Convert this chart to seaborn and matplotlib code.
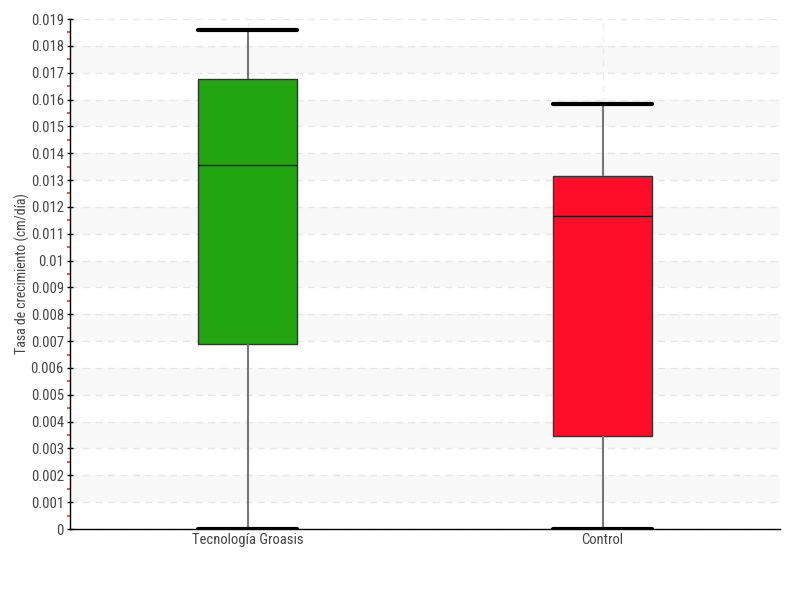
import matplotlib
matplotlib.use("Agg")
import matplotlib.pyplot as plt
import seaborn as sns
import pandas as pd
import numpy as np
from matplotlib.ticker import MultipleLocator, FixedLocator
from matplotlib import font_manager

categories = ["Tecnología Groasis", "Control"]
# five-number summaries: min, Q1, median, Q3, max
groasis_values = [0.0, 0.00689, 0.01356, 0.01676, 0.01859]
control_values = [0.0, 0.00346, 0.01166, 0.01315, 0.01583]
colors = ["#22a511", "#ff0d29"]
y_label = "Tasa de crecimiento (cm/día)"

df = pd.DataFrame({
    "grupo": [categories[0]] * len(groasis_values) + [categories[1]] * len(control_values),
    "tasa": groasis_values + control_values,
})

sns.set_style("white")
avail = {f.name for f in font_manager.fontManager.ttflist}
fam = None
for cand in ["Liberation Sans Narrow", "DejaVu Sans Condensed", "Roboto Condensed", "Open Sans Condensed"]:
    if cand in avail:
        fam = cand
        break
if fam:
    plt.rcParams["font.family"] = [fam, "DejaVu Sans"]
    stretch = "normal"
else:
    plt.rcParams["font.family"] = ["DejaVu Sans"]
    stretch = "condensed"

fig = plt.figure(figsize=(8, 6), dpi=100)
ax = fig.add_axes([0.0875, 0.1183, 0.8875, 0.85])

# alternating bands
for k in range(0, 19, 2):
    ax.axhspan((k + 1) * 0.001, (k + 2) * 0.001, color="#f8f8f8", zorder=0, lw=0)

sns.boxplot(data=df, x="grupo", y="tasa", order=categories, hue="grupo",
            hue_order=categories, palette=colors, saturation=1, width=0.28,
            whis=1.5, legend=False, ax=ax, linewidth=1, linecolor="#222222",
            medianprops=dict(color="#111111", linewidth=1),
            whiskerprops=dict(color="#777777", linewidth=1.5),
            capprops=dict(color="black", linewidth=3),
            boxprops=dict(edgecolor="#333333", linewidth=1),
            capwidths=0.28)

ax.set_xlim(-0.5, 1.5)
ax.set_ylim(0, 0.019)
ax.yaxis.set_major_locator(MultipleLocator(0.001))
ax.yaxis.set_minor_locator(FixedLocator(np.arange(0.0005, 0.019, 0.001)))

def fmt(v, pos):
    if abs(v) < 1e-12:
        return "0"
    s = ("%.3f" % v).rstrip("0")
    return s
ax.yaxis.set_major_formatter(matplotlib.ticker.FuncFormatter(fmt))

ax.grid(axis="y", which="major", color="#e6e6e6", linestyle=(0, (5, 4)), linewidth=1, zorder=0)
ax.grid(axis="x", which="major", color="#ececec", linestyle=(0, (5, 4)), linewidth=1, zorder=0)
ax.set_axisbelow(True)

for s in ["top", "right"]:
    ax.spines[s].set_visible(False)
for s in ["left", "bottom"]:
    ax.spines[s].set_color("black")
    ax.spines[s].set_linewidth(1)

ax.tick_params(axis="y", which="major", direction="inout", length=5, width=1, color="black",
               labelsize=10.5, labelcolor="#444444", pad=2, left=True)
ax.tick_params(axis="y", which="minor", direction="out", length=2.5, width=1.2, color="#ff2a2a", left=True)
ax.tick_params(axis="x", which="major", length=0, labelsize=10.5, labelcolor="#444444", pad=3)

for lab in ax.get_yticklabels() + ax.get_xticklabels():
    lab.set_fontstretch(stretch)

ax.set_xlabel("")
ax.set_ylabel(y_label, fontsize=10, color="#444444", fontstretch=stretch)
ax.yaxis.set_label_coords(-0.056, 0.5)

fig.savefig("out.png", dpi=100)
